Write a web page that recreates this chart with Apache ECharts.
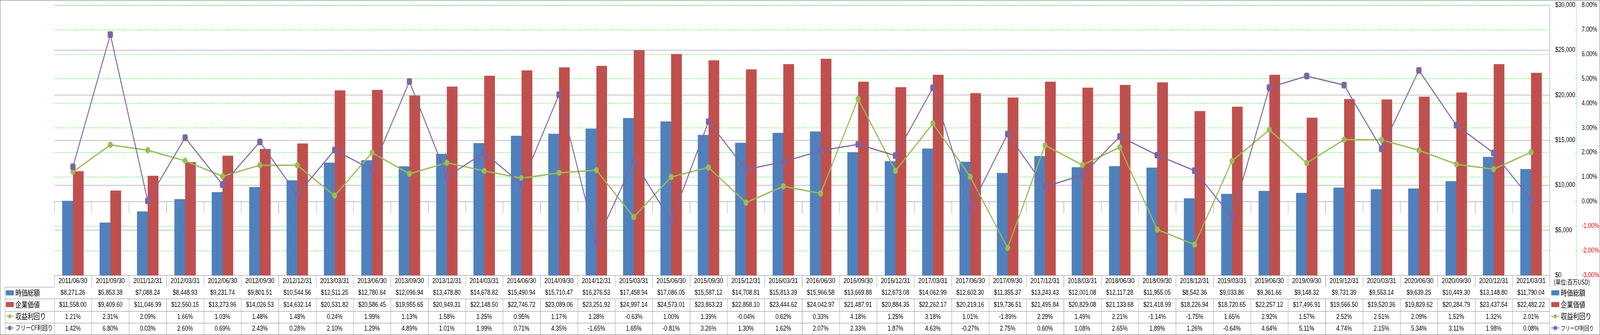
<!DOCTYPE html>
<html><head><meta charset="utf-8">
<script src="https://cdn.jsdelivr.net/npm/echarts@6/dist/echarts.min.js"></script>
<style>html,body{margin:0;padding:0;background:#fff;overflow:hidden}#c{width:5221px;height:858px;transform-origin:0 0}</style>
</head><body><div id="c"></div>
<script>
const categories = ['2011/06/30','2011/09/30','2011/12/31','2012/03/31','2012/06/30','2012/09/30','2012/12/31','2013/03/31','2013/06/30','2013/09/30','2013/12/31','2014/03/31','2014/06/30','2014/09/30','2014/12/31','2015/03/31','2015/06/30','2015/09/30','2015/12/31','2016/03/31','2016/06/30','2016/09/30','2016/12/31','2017/03/31','2017/06/30','2017/09/30','2017/12/31','2018/03/31','2018/06/30','2018/09/30','2018/12/31','2019/03/31','2019/06/30','2019/09/30','2019/12/31','2020/03/31','2020/06/30','2020/09/30','2020/12/31','2021/03/31'];
const marketCap = [8271.26,5853.38,7088.24,8448.93,9231.74,9801.51,10544.56,12511.25,12780.64,12096.94,13478.80,14678.82,15490.94,15710.47,16276.53,17458.94,17086.05,15587.12,14708.81,15813.39,15966.58,13669.88,12673.08,14062.99,12602.30,11355.37,13243.43,12001.08,12117.28,11955.05,8542.36,9033.86,9361.66,9148.32,9731.39,9553.14,9639.25,10449.30,13148.80,11790.04];
const enterpriseValue = [11558.00,9409.60,11046.99,12560.15,13273.96,14026.53,14632.14,20531.82,20586.45,19955.65,20949.31,22148.50,22746.72,23089.06,23251.92,24997.14,24573.01,23863.23,22858.10,23444.62,24042.97,21487.91,20884.35,22262.17,20219.16,19736.51,21495.84,20829.08,21133.68,21418.99,18226.94,18720.65,22257.12,17496.91,19566.50,19520.36,19829.62,20284.79,23437.54,22482.22];
const earningsYield = [1.21,2.31,2.09,1.66,1.03,1.48,1.48,0.24,1.99,1.13,1.58,1.25,0.95,1.17,1.28,-0.63,1.00,1.39,-0.04,0.62,0.33,4.18,1.25,3.18,1.01,-1.89,2.29,1.49,2.21,-1.14,-1.75,1.65,2.92,1.57,2.52,2.51,2.09,1.52,1.32,2.01];
const fcfYield = [1.42,6.80,0.03,2.60,0.69,2.43,0.28,2.10,1.29,4.89,1.01,1.99,0.71,4.35,-1.65,1.65,-0.81,3.26,1.30,1.62,2.07,2.33,1.87,4.63,-0.27,2.75,0.60,1.08,2.65,1.89,1.26,-0.64,4.64,5.11,4.74,2.15,5.34,3.11,1.98,0.08];
const seriesNames = ['時価総額','企業価値','収益利回り','フリーCF利回り'];
const unitLabel = '(単位:百万USD)';
const usdAxis = {min: 0, max: 30000, interval: 5000};
const pctAxis = {min: -3, max: 8, interval: 1};

const COLORS = ['#4F81BD','#C0504D','#9BBB59','#8064A2'];
const LINE = '#868686';
const GREEN = '#00EE00';
const NUM_FONT = '"Liberation Sans", Arial, sans-serif';
const CJK_FONT = '"Noto Sans CJK JP", sans-serif';

const fmtUSD = v => '$' + v.toLocaleString('en-US', {minimumFractionDigits: 2, maximumFractionDigits: 2});
const fmtPct = v => v.toFixed(2) + '%';

const PLOT_L = 177, PLOT_R = 5057, PLOT_T = 13, PLOT_B = 705, W = 5221, H = 858;
const rowOffsets = [0, 30, 60, 92, 122, 152];
const rowTexts = [
  categories,
  marketCap.map(fmtUSD),
  enterpriseValue.map(fmtUSD),
  earningsYield.map(fmtPct),
  fcfYield.map(fmtPct)
];

// The drawing is laid out at the reference size; if the window is narrower, fit it horizontally.
const el = document.getElementById('c');
const fit = Math.min(1, (window.innerWidth || W) / W);
if (fit < 1) el.style.transform = 'scale(' + fit + ',1)';

const xAxes = rowTexts.map((texts, r) => {
  const h = rowOffsets[r + 1] - rowOffsets[r];
  return {
    type: 'category', gridIndex: 0, position: 'bottom', offset: rowOffsets[r],
    data: categories, boundaryGap: true,
    axisLine: {show: true, lineStyle: {color: LINE, width: 1}},
    axisTick: {show: true, interval: 0, length: h, inside: false, lineStyle: {color: LINE, width: 1}},
    axisLabel: {show: true, interval: 0, margin: 0, lineHeight: h, height: h, verticalAlign: 'top',
      fontSize: r === 0 ? 19 : 18, fontFamily: NUM_FONT, color: '#000', hideOverlap: false,
      formatter: (v, i) => texts[i]},
    splitLine: {show: false}
  };
});
xAxes.push({
  type: 'category', gridIndex: 0, position: 'bottom', offset: rowOffsets[5], data: categories,
  axisLine: {show: true, lineStyle: {color: LINE, width: 1}},
  axisTick: {show: false}, axisLabel: {show: false}, splitLine: {show: false}
});

const graphics = [
  {type: 'rect', silent: true, shape: {x: 0.5, y: 0.5, width: W - 1, height: H - 1}, style: {fill: 'none', stroke: LINE, lineWidth: 1.5}},
  {type: 'line', silent: true, shape: {x1: 16.5, y1: PLOT_B + rowOffsets[1], x2: 16.5, y2: PLOT_B + rowOffsets[5]}, style: {stroke: LINE, lineWidth: 1}},
  {type: 'text', silent: true, left: 5070, top: 714, style: {text: unitLabel, fontSize: 17, fontFamily: CJK_FONT, fill: '#000'}}
];
for (let r = 1; r <= 5; r++) {
  const y = PLOT_B + rowOffsets[r] + 0.5;
  graphics.push({type: 'line', silent: true, shape: {x1: 16, y1: y, x2: PLOT_L, y2: y}, style: {stroke: LINE, lineWidth: 1}});
}

function makeLegend(left, longSize) {
  return {
    orient: 'vertical', left: left, top: 740, height: 118, padding: 0,
    itemWidth: 26, itemHeight: 13, itemGap: 10,
    textStyle: {fontSize: 20, lineHeight: 20, fontFamily: CJK_FONT, color: '#000'},
    selectedMode: false,
    data: [
      {name: seriesNames[0], icon: 'rect'},
      {name: seriesNames[1], icon: 'rect'},
      {name: seriesNames[2]},
      {name: seriesNames[3], textStyle: {fontSize: longSize, lineHeight: 20}}
    ]
  };
}

const option = {
  animation: false,
  backgroundColor: '#fff',
  grid: {left: PLOT_L, right: W - PLOT_R, top: PLOT_T, bottom: H - PLOT_B, containLabel: false, outerBoundsMode: 'none'},
  legend: [makeLegend(18, 17), makeLegend(5061, 15)],
  xAxis: xAxes,
  yAxis: [
    {type: 'value', position: 'right', min: usdAxis.min, max: usdAxis.max, interval: usdAxis.interval,
      axisLine: {show: true, lineStyle: {color: LINE, width: 1}},
      axisTick: {show: false},
      axisLabel: {margin: 18, fontSize: 18, fontFamily: NUM_FONT, color: '#000',
        formatter: v => '$' + v.toLocaleString('en-US')},
      splitLine: {show: true, lineStyle: {color: LINE, width: 1}}},
    {type: 'value', position: 'right', offset: 87, min: pctAxis.min, max: pctAxis.max, interval: pctAxis.interval,
      axisLine: {show: true, lineStyle: {color: GREEN, width: 1, type: [4, 3]}},
      axisTick: {show: true, inside: true, length: 4, lineStyle: {color: GREEN}},
      axisLabel: {margin: 17, fontSize: 18, fontFamily: NUM_FONT,
        color: v => (v < 0 ? '#FF0000' : '#000'),
        formatter: v => v.toFixed(2) + '%'},
      splitLine: {show: true, lineStyle: {color: GREEN, width: 1, type: [4, 3]}}}
  ],
  graphic: graphics,
  series: [
    {name: seriesNames[0], type: 'bar', xAxisIndex: 0, yAxisIndex: 0, data: marketCap,
      barWidth: 35, barGap: '0%', itemStyle: {color: COLORS[0]}},
    {name: seriesNames[1], type: 'bar', xAxisIndex: 0, yAxisIndex: 0, data: enterpriseValue,
      barWidth: 35, barGap: '0%', itemStyle: {color: COLORS[1]}},
    {name: seriesNames[2], type: 'line', xAxisIndex: 0, yAxisIndex: 1, data: earningsYield,
      symbol: 'circle', symbolSize: 16, itemStyle: {color: COLORS[2]},
      lineStyle: {color: COLORS[2], width: 3.5}, z: 3},
    {name: seriesNames[3], type: 'line', xAxisIndex: 0, yAxisIndex: 1, data: fcfYield,
      symbol: 'roundRect', symbolSize: 17, itemStyle: {color: COLORS[3]},
      lineStyle: {color: COLORS[3], width: 3}, z: 4}
  ]
};
const chart = echarts.init(el, null, {renderer: 'canvas', width: W, height: H});
chart.setOption(option);
</script></body></html>
